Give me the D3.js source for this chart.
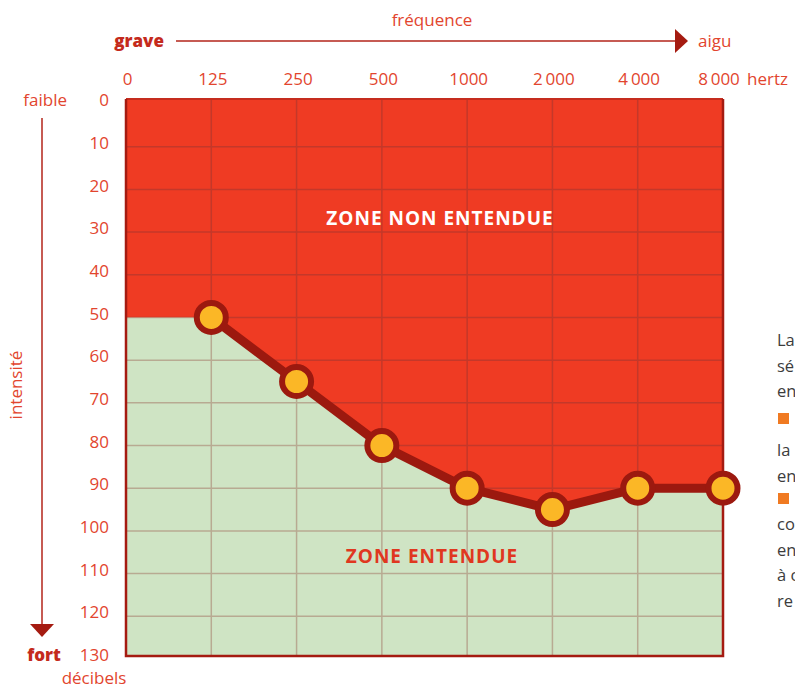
<!DOCTYPE html>
<html>
<head>
<meta charset="utf-8">
<script src="https://cdn.jsdelivr.net/npm/d3@7"></script>
<style>
    body { margin: 0; background: #fff; }
    svg { display: block; font-family: "Open Sans", sans-serif; }
</style>
</head>
<body>
<div id="chart"></div>
<script>
(function(){

    // frequency categories (hertz) and tick labels
    var frequencies = ["0", "125", "250", "500", "1000", "2000", "4000", "8000"];
    var freqLabels = ["0", "125", "250", "500", "1000", "2\u2009000", "4\u2009000", "8\u2009000"];

    // hearing threshold (décibels) for each frequency, "0" extends the first value
    var thresholdFreq = ["0", "125", "250", "500", "1000", "2000", "4000", "8000"];
    var thresholdDb = [50, 50, 65, 80, 90, 95, 90, 90];

    // measured points (markers)
    var pointFreq = ["125", "250", "500", "1000", "2000", "4000", "8000"];
    var pointDb = [50, 65, 80, 90, 95, 90, 90];

    // intensity ticks
    var dbTicks = [0, 10, 20, 30, 40, 50, 60, 70, 80, 90, 100, 110, 120, 130];

    // fragments of the neighbouring text column (cut by the page edge), "■" = bullet
    var sideText = ["La", "sé", "en", "■", "la", "en", "■", "co", "en", "à c", "re"];

    var width = 795, height = 689;

    var svg = d3.select("#chart").append("svg")
        .attr("width", width)
        .attr("height", height);

    var x = d3.scalePoint()
        .domain(frequencies)
        .range([126, 723]);

    var y = d3.scaleLinear()
        .domain([0, 130])
        .range([104, 659]);

    var left = x("0"), right = x("8000"),
        top = y(0) - 5, bottom = y(130) - 3;

    var threshold = thresholdFreq.map(function(f, i) { return { f: f, db: thresholdDb[i] }; });
    var points = pointFreq.map(function(f, i) { return { f: f, db: pointDb[i] }; });

    // zone shapes
    var redArea = d3.area()
        .x(function(d) { return x(d.f); })
        .y0(top)
        .y1(function(d) { return y(d.db); });

    var greenArea = d3.area()
        .x(function(d) { return x(d.f); })
        .y0(bottom)
        .y1(function(d) { return y(d.db); });

    var defs = svg.append("defs");
    defs.append("clipPath").attr("id", "clipRed")
        .append("path").attr("d", redArea(threshold));
    defs.append("clipPath").attr("id", "clipGreen")
        .append("path").attr("d", greenArea(threshold));

    svg.append("rect")
        .attr("x", left).attr("y", top)
        .attr("width", right - left).attr("height", bottom - top)
        .style("fill", "#ef3b23");

    svg.append("path")
        .attr("d", greenArea(threshold))
        .style("fill", "#cfe4c4");

    // grid, drawn twice: red on red zone, tan on green zone
    function drawGrid(clip, color) {
        var g = svg.append("g").attr("clip-path", "url(#" + clip + ")");
        g.selectAll(".h").data(dbTicks.slice(1, -1)).enter()
            .append("line")
            .attr("x1", left).attr("x2", right)
            .attr("y1", function(d) { return y(d); })
            .attr("y2", function(d) { return y(d); })
            .style("stroke", color)
            .style("stroke-width", 1.5);
        g.selectAll(".v").data(frequencies.slice(1, -1)).enter()
            .append("line")
            .attr("x1", function(d) { return x(d); })
            .attr("x2", function(d) { return x(d); })
            .attr("y1", top).attr("y2", bottom)
            .style("stroke", color)
            .style("stroke-width", 1.5);
    }
    drawGrid("clipRed", "#c4382a");
    drawGrid("clipGreen", "#b8aa92");

    // frame
    svg.append("path")
        .attr("d", "M" + left + "," + top + "H" + right)
        .style("stroke", "#c52c1e").style("stroke-width", 2).style("fill", "none");
    svg.append("path")
        .attr("d", "M" + left + "," + top + "V" + bottom + "H" + right + "V" + top)
        .style("stroke", "#a51b11").style("stroke-width", 2.5).style("fill", "none");

    // zone labels
    svg.append("text")
        .attr("x", 440).attr("y", 225)
        .attr("text-anchor", "middle")
        .text("ZONE NON ENTENDUE")
        .style("fill", "#fff")
        .style("font-size", "19px")
        .style("font-weight", 700)
        .style("letter-spacing", "1px");

    svg.append("text")
        .attr("x", 432).attr("y", 563)
        .attr("text-anchor", "middle")
        .text("ZONE ENTENDUE")
        .style("fill", "#e0371f")
        .style("font-size", "19px")
        .style("font-weight", 700)
        .style("letter-spacing", "1px");

    // threshold line + markers
    var line = d3.line()
        .x(function(d) { return x(d.f); })
        .y(function(d) { return y(d.db); });

    svg.append("path")
        .attr("d", line(points))
        .style("fill", "none")
        .style("stroke", "#9c190f")
        .style("stroke-width", 9)
        .style("stroke-linejoin", "round");

    svg.selectAll(".dot").data(points).enter()
        .append("circle")
        .attr("cx", function(d) { return x(d.f); })
        .attr("cy", function(d) { return y(d.db); })
        .attr("r", 14.5)
        .style("fill", "#fbb726")
        .style("stroke", "#9c190f")
        .style("stroke-width", 6);

    var labelColor = "#e2452e", darkRed = "#a51b11";

    // x tick labels
    svg.selectAll(".xlab").data(frequencies).enter()
        .append("text")
        .attr("x", function(d) { return d == "8000" ? x(d) - 4 : x(d) + 1.5; })
        .attr("y", 85)
        .attr("text-anchor", "middle")
        .text(function(d, i) { return freqLabels[i]; })
        .style("fill", labelColor)
        .style("font-size", "17px");

    svg.append("text")
        .attr("x", 747).attr("y", 85)
        .text("hertz")
        .style("fill", labelColor)
        .style("font-size", "17px");

    // y tick labels
    svg.selectAll(".ylab").data(dbTicks).enter()
        .append("text")
        .attr("x", 109)
        .attr("y", function(d) { return y(d) - 4; })
        .attr("dy", "0.36em")
        .attr("text-anchor", "end")
        .text(function(d) { return d; })
        .style("fill", labelColor)
        .style("font-size", "17px");

    // frequency arrow
    svg.append("text")
        .attr("x", 432).attr("y", 26)
        .attr("text-anchor", "middle")
        .text("fréquence")
        .style("fill", labelColor)
        .style("font-size", "17px");

    svg.append("text")
        .attr("x", 164).attr("y", 47)
        .attr("text-anchor", "end")
        .text("grave")
        .style("fill", "#c42a1c")
        .style("font-size", "17px")
        .style("font-weight", 800);

    svg.append("line")
        .attr("x1", 176).attr("x2", 677)
        .attr("y1", 41).attr("y2", 41)
        .style("stroke", "#b3241a")
        .style("stroke-width", 1.5);

    svg.append("path")
        .attr("d", "M675,29L688,41L675,53Z")
        .style("fill", darkRed);

    svg.append("text")
        .attr("x", 698).attr("y", 47)
        .text("aigu")
        .style("fill", labelColor)
        .style("font-size", "17px");

    // intensity arrow
    svg.append("text")
        .attr("x", 67).attr("y", 106)
        .attr("text-anchor", "end")
        .text("faible")
        .style("fill", labelColor)
        .style("font-size", "17px");

    svg.append("line")
        .attr("x1", 42).attr("x2", 42)
        .attr("y1", 118).attr("y2", 625)
        .style("stroke", "#b3241a")
        .style("stroke-width", 1.5);

    svg.append("path")
        .attr("d", "M30,624L42,637L54,624Z")
        .style("fill", darkRed);

    svg.append("text")
        .attr("transform", "translate(22,385) rotate(-90)")
        .attr("text-anchor", "middle")
        .text("intensité")
        .style("fill", labelColor)
        .style("font-size", "17px");

    svg.append("text")
        .attr("x", 44).attr("y", 661)
        .attr("text-anchor", "middle")
        .text("fort")
        .style("fill", "#c42a1c")
        .style("font-size", "17px")
        .style("font-weight", 800);

    svg.append("text")
        .attr("x", 94).attr("y", 684)
        .attr("text-anchor", "middle")
        .text("décibels")
        .style("fill", labelColor)
        .style("font-size", "17px");

    // side text column, cut by the page edge
    var sideBase = [346, 371.5, 397, 424, 456, 481.5, 504, 530, 555.5, 581, 607];
    var side = svg.append("g").attr("transform", "translate(777,0)");

    sideText.forEach(function(d, i) {
        if (d == "■") {
            side.append("rect")
                .attr("x", 1)
                .attr("y", sideBase[i] - 11)
                .attr("width", 11).attr("height", 11)
                .style("fill", "#f07a22");
        } else {
            side.append("text")
                .attr("y", sideBase[i])
                .text(d)
                .style("fill", "#3c3c3c")
                .style("font-size", "16.5px");
        }
    });

})();
</script>
</body>
</html>
